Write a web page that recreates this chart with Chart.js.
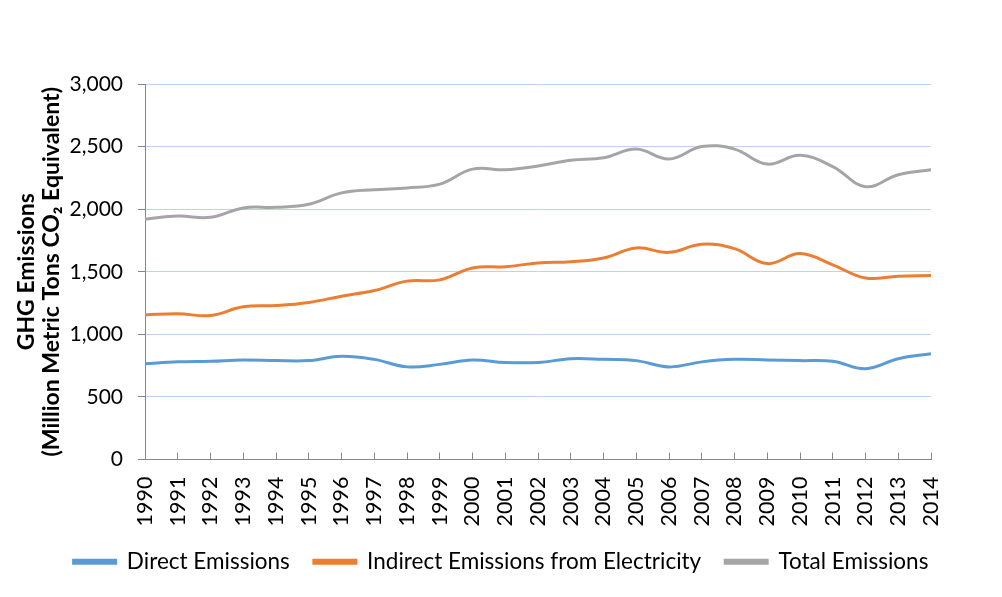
<!DOCTYPE html>
<html>
<head>
<meta charset="utf-8">
<script src="https://cdn.jsdelivr.net/npm/chart.js@4.4.0/dist/chart.umd.min.js"></script>
<style>
html,body{margin:0;padding:0;background:#fff;}
#wrap{width:1002px;height:597px;position:relative;}
</style>
</head>
<body>
<div id="wrap"><canvas id="c" width="1002" height="597"></canvas></div>
<script>
const years = ["1990","1991","1992","1993","1994","1995","1996","1997","1998","1999","2000","2001","2002","2003","2004","2005","2006","2007","2008","2009","2010","2011","2012","2013","2014"];
const directEmissions = [765,780,785,795,790,790,825,800,740,760,795,775,775,805,800,790,740,780,800,795,790,785,725,805,845];
const indirectEmissions = [1155,1165,1150,1220,1230,1255,1305,1350,1425,1435,1530,1540,1570,1580,1610,1690,1655,1720,1685,1565,1645,1555,1450,1465,1470];
const totalEmissions = [1920,1945,1935,2010,2015,2040,2130,2155,2170,2200,2320,2315,2345,2390,2410,2480,2400,2500,2480,2360,2430,2340,2180,2275,2315];
const yTitle = ["GHG Emissions", "(Million Metric Tons CO\u2082 Equivalent)"];

const FONT = "Lato, 'Open Sans', sans-serif";

new Chart(document.getElementById('c'), {
  type: 'line',
  data: {
    labels: years,
    datasets: [
      {label: 'Direct Emissions', data: directEmissions, borderColor: '#5b9bd5', backgroundColor: '#5b9bd5'},
      {label: 'Indirect Emissions from Electricity', data: indirectEmissions, borderColor: '#ed7d31', backgroundColor: '#ed7d31'},
      {label: 'Total Emissions', data: totalEmissions, borderColor: '#a5a5a5', backgroundColor: '#a5a5a5'}
    ].map(d => Object.assign(d, {borderWidth: 3, pointRadius: 0, tension: 0.4, fill: false}))
  },
  options: {
    responsive: false,
    animation: false,
    layout: {padding: {left: 0, right: 0, top: 84, bottom: 14}},
    plugins: {
      legend: {
        position: 'bottom',
        labels: {
          font: {family: FONT, size: 22.5},
          color: '#000',
          boxWidth: 42,
          boxHeight: 3,
          padding: 24
        }
      },
      tooltip: {enabled: false}
    },
    scales: {
      x: {
        afterFit: s => { s.height = 67; },
        grid: {drawOnChartArea: false, color: '#868686', tickLength: -7, tickColor: '#868686'},
        border: {color: '#868686', width: 1},
        ticks: {font: {family: FONT, size: 21.5}, color: '#000', maxRotation: 90, minRotation: 90, autoSkip: false, padding: 24}
      },
      y: {
        min: 0, max: 3000,
        afterFit: s => { s.width = 145; },
        grid: {color: '#bcd2f0', lineWidth: 1, tickLength: 7, tickColor: '#868686'},
        border: {color: '#868686', width: 1},
        ticks: {stepSize: 500, font: {family: FONT, size: 21}, color: '#000', padding: 15,
                callback: v => v.toLocaleString('en-US')},
        title: {display: true, text: yTitle, font: {family: FONT, size: 23, weight: 'bold', lineHeight: 1.1}, color: '#000', padding: {top: 14, bottom: 0}}
      },
      spacer: {
        position: 'right',
        afterFit: s => { s.width = 71; },
        grid: {display: false},
        border: {display: false},
        ticks: {display: false}
      }
    }
  }
});
</script>
</body>
</html>
